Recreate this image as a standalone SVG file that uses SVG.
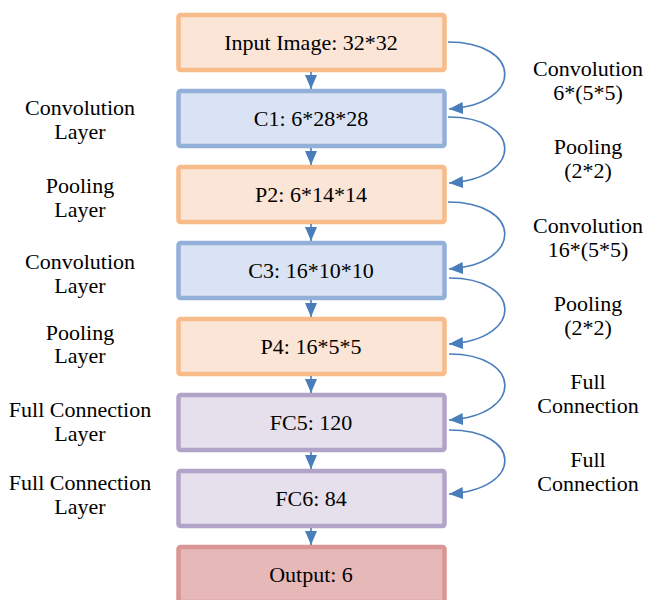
<svg xmlns="http://www.w3.org/2000/svg" width="646" height="600" viewBox="0 0 646 600">
<style>
text{font-family:"Liberation Serif","Times New Roman",serif;font-size:22px;fill:#000;text-anchor:middle}
.box{stroke-width:4.5}
.or{fill:#FBE5D6;stroke:#F8BC8A}
.bl{fill:#DAE3F3;stroke:#93B0D8}
.pu{fill:#E5E0EC;stroke:#B2A3C9}
.rd{fill:#E6B9B8;stroke:#D99694}
.conn path{fill:none;stroke:#4A7EBB;stroke-width:1.6}
</style>
<defs>
<marker id="ah" markerUnits="userSpaceOnUse" markerWidth="14" markerHeight="12" viewBox="0 0 14 12" refX="14" refY="6" orient="auto">
<path d="M0,0 L14,6 L0,12 Z" fill="#4A7EBB"/>
</marker>
</defs>
<rect width="646" height="600" fill="#fff"/>
<g id="n1"><rect class="box or" x="178.5" y="15" width="266" height="55" rx="2"/><text x="311" y="50">Input Image: 32*32</text></g>
<g id="n2"><rect class="box bl" x="178.5" y="91" width="266" height="55" rx="2"/><text x="311" y="126">C1: 6*28*28</text></g>
<g id="n3"><rect class="box or" x="178.5" y="167" width="266" height="55" rx="2"/><text x="311" y="202">P2: 6*14*14</text></g>
<g id="n4"><rect class="box bl" x="178.5" y="243" width="266" height="55" rx="2"/><text x="311" y="278">C3: 16*10*10</text></g>
<g id="n5"><rect class="box or" x="178.5" y="319" width="266" height="55" rx="2"/><text x="311" y="354">P4: 16*5*5</text></g>
<g id="n6"><rect class="box pu" x="178.5" y="395" width="266" height="55" rx="2"/><text x="311" y="430">FC5: 120</text></g>
<g id="n7"><rect class="box pu" x="178.5" y="471" width="266" height="55" rx="2"/><text x="311" y="506">FC6: 84</text></g>
<g id="n8"><rect class="box rd" x="178.5" y="547" width="266" height="55" rx="2"/><text x="311" y="582">Output: 6</text></g>
<g class="conn">
<path d="M311,72 V89" marker-end="url(#ah)"/>
<path d="M311,148 V165" marker-end="url(#ah)"/>
<path d="M311,224 V241" marker-end="url(#ah)"/>
<path d="M311,300 V317" marker-end="url(#ah)"/>
<path d="M311,376 V393" marker-end="url(#ah)"/>
<path d="M311,452 V469" marker-end="url(#ah)"/>
<path d="M311,528 V545" marker-end="url(#ah)"/>
<path d="M448,42 C522,42 525,104 449,109" marker-end="url(#ah)"/>
<path d="M448,117 C522,117 525,178 449,183" marker-end="url(#ah)"/>
<path d="M448,202 C522,202 525,264 449,269" marker-end="url(#ah)"/>
<path d="M449,278 C522,278 525,339 449,344" marker-end="url(#ah)"/>
<path d="M449,354 C522,354 525,415 449,420" marker-end="url(#ah)"/>
<path d="M449,430 C522,430 525,489 449,494" marker-end="url(#ah)"/>
</g>
<g id="left-labels">
<text x="80" y="115">Convolution</text><text x="80" y="139">Layer</text>
<text x="80" y="193">Pooling</text><text x="80" y="217">Layer</text>
<text x="80" y="269">Convolution</text><text x="80" y="293">Layer</text>
<text x="80" y="340">Pooling</text><text x="80" y="363">Layer</text>
<text x="80" y="417">Full Connection</text><text x="80" y="441">Layer</text>
<text x="80" y="490">Full Connection</text><text x="80" y="514">Layer</text>
</g>
<g id="right-labels">
<text x="588" y="76">Convolution</text><text x="588" y="100">6*(5*5)</text>
<text x="588" y="154">Pooling</text><text x="588" y="178">(2*2)</text>
<text x="588" y="233">Convolution</text><text x="588" y="257">16*(5*5)</text>
<text x="588" y="311">Pooling</text><text x="588" y="335">(2*2)</text>
<text x="588" y="389">Full</text><text x="588" y="413">Connection</text>
<text x="588" y="467">Full</text><text x="588" y="491">Connection</text>
</g>
</svg>
